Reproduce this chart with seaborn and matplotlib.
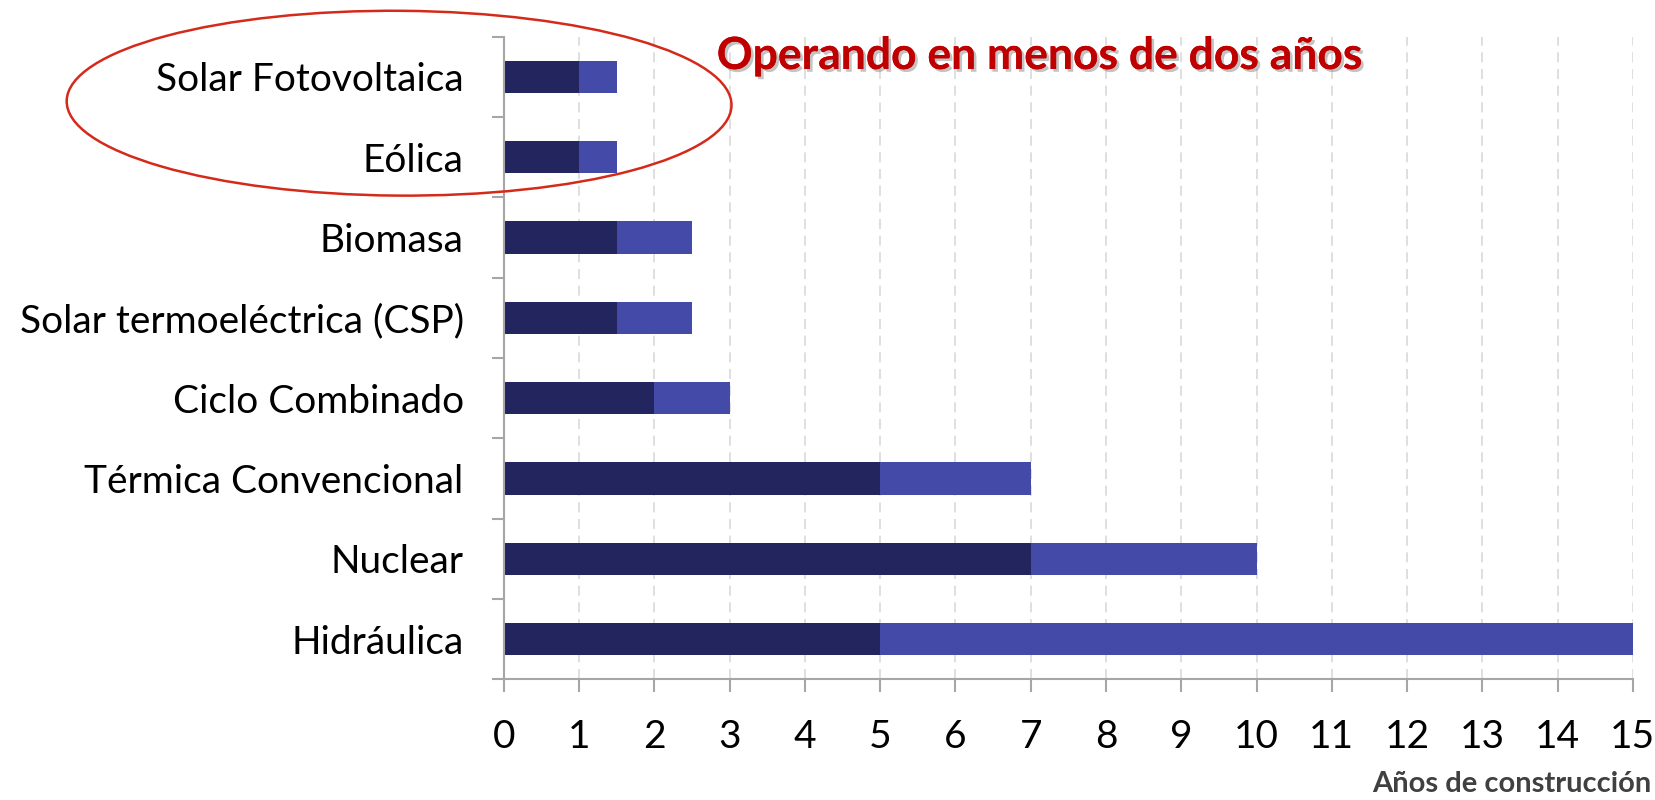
import matplotlib
matplotlib.use('Agg')
import matplotlib.pyplot as plt
import matplotlib.patheffects as pe
from matplotlib.patches import Ellipse
from matplotlib.ticker import FixedLocator
import pandas as pd
import seaborn as sns

# Data: construction time range (years) per technology
technologies = ['Solar Fotovoltaica', 'Eólica', 'Biomasa', 'Solar termoeléctrica (CSP)',
                'Ciclo Combinado', 'Térmica Convencional', 'Nuclear', 'Hidráulica']
min_years = [1, 1, 1.5, 1.5, 2, 5, 7, 5]
max_years = [1.5, 1.5, 2.5, 2.5, 3, 7, 10, 15]
x_ticks = list(range(0, 16))

title_text = 'Operando en menos de dos años'
xlabel_text = 'Años de construcción'

dark_color = '#23265E'
light_color = '#434AA8'
axis_gray = '#A6A6A6'

sns.set_style('white')
plt.rcParams['font.family'] = ['Lato', 'DejaVu Sans']

df = pd.DataFrame({'tech': technologies, 'min': min_years, 'max': max_years})

fig = plt.figure(figsize=(16.56, 8), dpi=100)
ax = fig.add_axes([0.3043, 0.151, 0.6817, 0.803])

sns.barplot(data=df, x='max', y='tech', orient='h', color=light_color,
            width=0.4, saturation=1, linewidth=0, ax=ax, order=technologies)
sns.barplot(data=df, x='min', y='tech', orient='h', color=dark_color,
            width=0.4, saturation=1, linewidth=0, ax=ax, order=technologies)

ax.set_xlim(0, 15)
ax.set_ylim(len(technologies) - 0.5, -0.5)
ax.set_xticks(x_ticks)
ax.set_xlabel('')
ax.set_ylabel('')

# vertical dashed grid
for x in x_ticks[1:]:
    ax.axvline(x, color='#D9D9D9', linestyle=(0, (6, 4)), linewidth=1.2, zorder=0)

for side in ['top', 'right']:
    ax.spines[side].set_visible(False)
for side in ['left', 'bottom']:
    ax.spines[side].set_color(axis_gray)
    ax.spines[side].set_linewidth(1.5)

ax.tick_params(axis='y', which='major', left=True, length=0, pad=29,
               labelsize=28, labelcolor='black')
ax.yaxis.set_minor_locator(FixedLocator([i - 0.5 for i in range(len(technologies) + 1)]))
ax.tick_params(axis='y', which='minor', left=True, length=9, width=1.5,
               color=axis_gray, direction='out')
ax.tick_params(axis='x', which='major', bottom=True, length=9, width=1.5, color=axis_gray,
               direction='out', pad=20, labelsize=28, labelcolor='black')

# title with shadow
fig.text(0.628, 0.930, title_text, ha='center', va='center', fontsize=32,
         fontweight='bold', color='#C00000',
         path_effects=[pe.withSimplePatchShadow(offset=(2, -2), shadow_rgbFace='#888888', alpha=0.5),
                       pe.Normal()])

fig.text(0.997, 0.004, xlabel_text, ha='right', va='bottom', fontsize=21,
         fontweight='bold', color='#404040')

# highlight ellipse around the first two bars
ell = Ellipse((0.2410, 0.871), width=0.4015, height=0.231, transform=fig.transFigure,
              fill=False, edgecolor='#D42A1A', linewidth=1.8, angle=-1)
fig.patches.append(ell)

plt.savefig('out.png', dpi=100)
plt.close()
